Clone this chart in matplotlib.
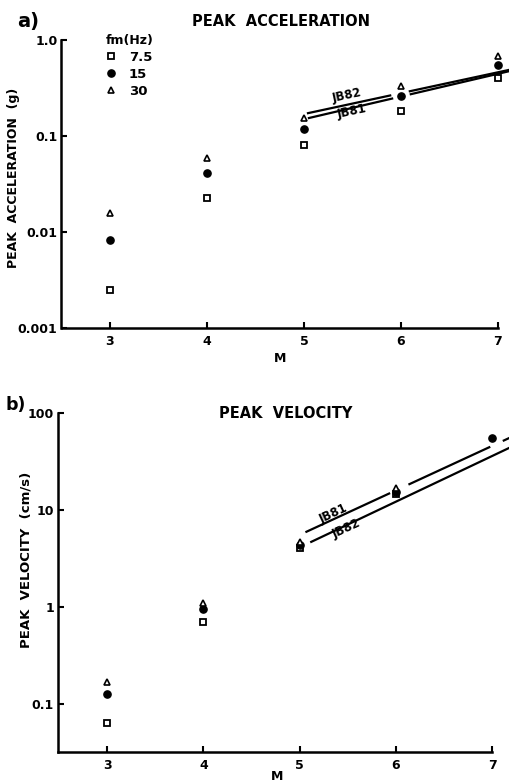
import numpy as np
import matplotlib
matplotlib.use("Agg")
import matplotlib.pyplot as plt
from matplotlib.ticker import FixedLocator, FixedFormatter, NullLocator

plt.rcParams['font.family'] = ['DejaVu Sans']
plt.rcParams['font.weight'] = 'bold'

# magnitudes
M = [3, 4, 5, 6, 7]

# peak acceleration (g) for each corner frequency fm
acc_7p5 = [0.0025, 0.0226, 0.081, 0.182, 0.40]
acc_15 = [0.0083, 0.041, 0.118, 0.26, 0.55]
acc_30 = [0.0158, 0.059, 0.155, 0.33, 0.68]

# peak velocity (cm/s)
vel_7p5 = [0.064, 0.70, 4.06, 14.6, np.nan]
vel_15 = [0.127, 0.95, 4.36, 15.3, 55.0]
vel_30 = [0.169, 1.10, 4.70, 16.9, np.nan]

# JB81 / JB82 relations: end points (M, value) and M ranges left blank round the points
jb81_acc_M = [5.04, 7.13]
jb81_acc = [0.153, 0.477]
jb81_acc_gaps = [(5.92, 6.09)]
jb82_acc_M = [5.03, 7.13]
jb82_acc = [0.172, 0.492]
jb82_acc_gaps = [(5.90, 6.08)]

jb81_vel_M = [5.06, 7.19]
jb81_vel = [5.9, 56.0]
jb81_vel_gaps = [(5.94, 6.13), (6.98, 7.11)]
jb82_vel_M = [5.11, 7.19]
jb82_vel = [4.64, 44.3]
jb82_vel_gaps = []

fm_labels = ['7.5', '15', '30']


def relation_line(ax, m_ends, v_ends, gaps):
    # straight line in log(y) between the two end points, broken at gaps
    m = [m_ends[0]]
    for g0, g1 in gaps:
        m += [g0, np.nan, g1]
    m.append(m_ends[1])
    m = np.array(m, dtype=float)
    mm = np.where(np.isnan(m), 0, m)
    v = 10 ** np.interp(mm, m_ends, np.log10(v_ends))
    v[np.isnan(m)] = np.nan
    ax.plot(m, v, color='black', lw=1.6, solid_capstyle='butt', zorder=2)


def plot_points(ax, y1, y2, y3):
    h1, = ax.plot(M, y1, ls='none', marker='s', ms=4.3, mfc='white', mec='black', mew=1.3, zorder=3)
    h2, = ax.plot(M, y2, ls='none', marker='o', ms=5.2, mfc='black', mec='black', zorder=3)
    h3, = ax.plot(M, y3, ls='none', marker='^', ms=5.0, mfc='white', mec='black', mew=1.2, zorder=3)
    return [h1, h2, h3]


def style_axes(ax, xmax_spine, yticks, ylabels):
    ax.set_yscale('log')
    for s in ['top', 'right']:
        ax.spines[s].set_visible(False)
    ax.spines['left'].set_linewidth(1.8)
    ax.spines['bottom'].set_linewidth(1.8)
    ax.spines['bottom'].set_bounds(ax.get_xlim()[0], xmax_spine)
    ax.set_xticks(M)
    ax.set_xticklabels([str(m) for m in M])
    ax.yaxis.set_major_locator(FixedLocator(yticks))
    ax.yaxis.set_major_formatter(FixedFormatter(ylabels))
    ax.yaxis.set_minor_locator(NullLocator())
    ax.tick_params(axis='both', direction='in', length=4, width=1.5, labelsize=9, pad=3)
    ax.tick_params(axis='x', pad=5)
    for lab in ax.get_xticklabels() + ax.get_yticklabels():
        lab.set_fontweight('bold')


fig = plt.figure(figsize=(5.1, 7.83), dpi=100)

# a) peak acceleration
ax1 = fig.add_axes([61.5 / 510, (783 - 328) / 783, 448.5 / 510, 288 / 783])
ax1.set_xlim(2.5, 7.124)
ax1.set_ylim(0.001, 1.0)
handles = plot_points(ax1, acc_7p5, acc_15, acc_30)
relation_line(ax1, jb82_acc_M, jb82_acc, jb82_acc_gaps)
relation_line(ax1, jb81_acc_M, jb81_acc, jb81_acc_gaps)
style_axes(ax1, 7, [0.001, 0.01, 0.1, 1.0], ['0.001', '0.01', '0.1', '1.0'])
ax1.text(5.44, 0.267, 'JB82', rotation=12, ha='center', va='center', fontsize=8.5, fontweight='bold')
ax1.text(5.49, 0.179, 'JB81', rotation=12, ha='center', va='center', fontsize=8.5, fontweight='bold')
ax1.set_xlabel('M', fontsize=9, fontweight='bold')
ax1.xaxis.set_label_coords(0.487, -0.085)
ax1.set_ylabel('PEAK  ACCELERATION  (g)', fontsize=9, fontweight='bold')
ax1.yaxis.set_label_coords(-0.0925, 0.52)
leg = ax1.legend(handles, fm_labels, title='fm(Hz)', loc='upper left', bbox_to_anchor=(0.085, 1.045),
                 frameon=False, alignment='left', handlelength=0.8, handletextpad=0.9,
                 labelspacing=0.3, borderpad=0, fontsize=9.5, title_fontsize=9)
leg.get_title().set_fontweight('bold')
for t in leg.get_texts():
    t.set_fontweight('bold')

# b) peak velocity
ax2 = fig.add_axes([58 / 510, (783 - 752) / 783, 452 / 510, 339 / 783])
ax2.set_xlim(2.49, 7.185)
ax2.set_ylim(0.032, 100)
plot_points(ax2, vel_7p5, vel_15, vel_30)
relation_line(ax2, jb81_vel_M, jb81_vel, jb81_vel_gaps)
relation_line(ax2, jb82_vel_M, jb82_vel, jb82_vel_gaps)
style_axes(ax2, 7, [0.1, 1, 10, 100], ['0.1', '1', '10', '100'])
ax2.text(5.35, 9.1, 'JB81', rotation=25, ha='center', va='center', fontsize=8.5, fontweight='bold')
ax2.text(5.49, 6.37, 'JB82', rotation=25, ha='center', va='center', fontsize=8.5, fontweight='bold')
ax2.set_xlabel('M', fontsize=9, fontweight='bold')
ax2.xaxis.set_label_coords(0.485, -0.052)
ax2.set_ylabel('PEAK  VELOCITY  (cm/s)', fontsize=9.5, fontweight='bold')
ax2.yaxis.set_label_coords(-0.0575, 0.566)

# panel letters and titles
fig.text(28 / 510, 1 - 21 / 783, 'a)', ha='center', va='center', fontsize=14, fontweight='bold')
fig.text(281 / 510, 1 - 22 / 783, 'PEAK  ACCELERATION', ha='center', va='center', fontsize=10.5, fontweight='bold')
fig.text(16 / 510, 1 - 405 / 783, 'b)', ha='center', va='center', fontsize=12.5, fontweight='bold')
fig.text(286 / 510, 1 - 413 / 783, 'PEAK  VELOCITY', ha='center', va='center', fontsize=10.5, fontweight='bold')

fig.savefig('out.png', dpi=100)
